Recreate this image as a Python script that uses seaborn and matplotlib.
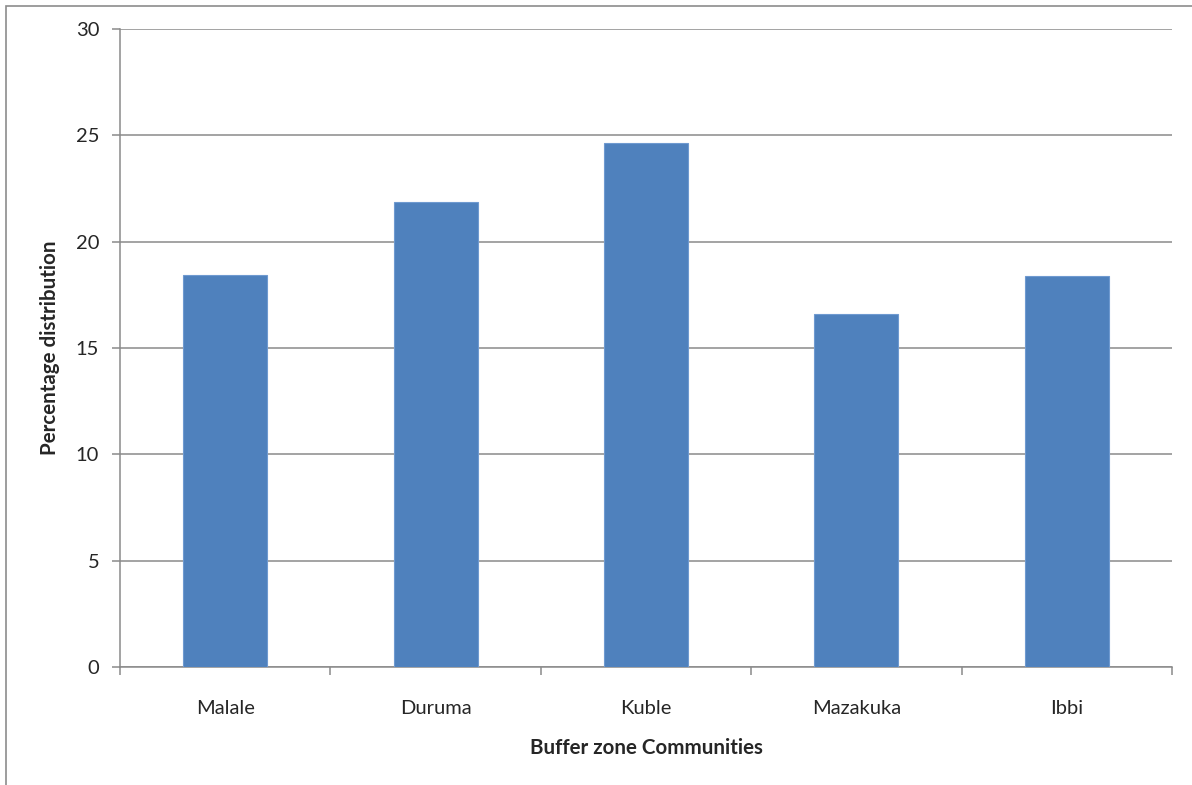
import matplotlib
matplotlib.use("Agg")
import matplotlib.pyplot as plt
import seaborn as sns
import pandas as pd
from matplotlib.patches import Rectangle

categories = ["Malale", "Duruma", "Kuble", "Mazakuka", "Ibbi"]
values = [18.45, 21.85, 24.65, 16.62, 18.38]
y_ticks = [0, 5, 10, 15, 20, 25, 30]
x_label = "Buffer zone Communities"
y_label = "Percentage distribution"

sns.set_theme(style="white")
plt.rcParams["font.family"] = ["Lato", "DejaVu Sans"]

df = pd.DataFrame({"community": categories, "pct": values})

fig = plt.figure(figsize=(11.92, 7.85), dpi=100)
W, H = 1192, 785
ax = fig.add_axes([120 / W, 1 - 667 / H, (1172 - 120) / W, (667 - 29) / H])

# outer chart border
fig.patches.append(Rectangle((6 / W, -0.01), 1.02, 1 - 6 / H + 0.01, transform=fig.transFigure,
                             fill=False, edgecolor="#8c8c8c", linewidth=1.2))

sns.barplot(data=df, x="community", y="pct", ax=ax, color="#4F81BD", saturation=1,
            width=0.4, edgecolor="#6F9AD0", linewidth=0.8, zorder=3)

ax.set_xlim(-0.5, len(categories) - 0.5)
ax.set_ylim(0, 30)
ax.set_yticks(y_ticks)
ax.set_yticklabels([str(t) for t in y_ticks], fontsize=14.5)
ax.yaxis.grid(True, color="#8a8a8a", linewidth=1.1, zorder=0)
ax.set_axisbelow(True)

# major ticks at category boundaries, labels on minor ticks
ax.set_xticks([i - 0.5 for i in range(len(categories) + 1)])
ax.set_xticklabels([])
ax.set_xticks(list(range(len(categories))), minor=True)
ax.set_xticklabels(categories, minor=True, fontsize=14.5)
ax.tick_params(axis="x", which="major", direction="out", length=6, width=1.1, color="#8a8a8a", bottom=True)
ax.tick_params(axis="x", which="minor", length=0, pad=24)
ax.tick_params(axis="y", which="major", direction="out", length=6, width=1.1, color="#8a8a8a", left=True, pad=9)

for s in ["top", "right"]:
    ax.spines[s].set_visible(False)
for s in ["left", "bottom"]:
    ax.spines[s].set_color("#8a8a8a")
    ax.spines[s].set_linewidth(1.1)

ax.set_xlabel(x_label, fontsize=14.8, fontweight="bold", labelpad=15)
ax.set_ylabel(y_label, fontsize=14.8, fontweight="bold", labelpad=11)

fig.savefig("out.png", dpi=100)
